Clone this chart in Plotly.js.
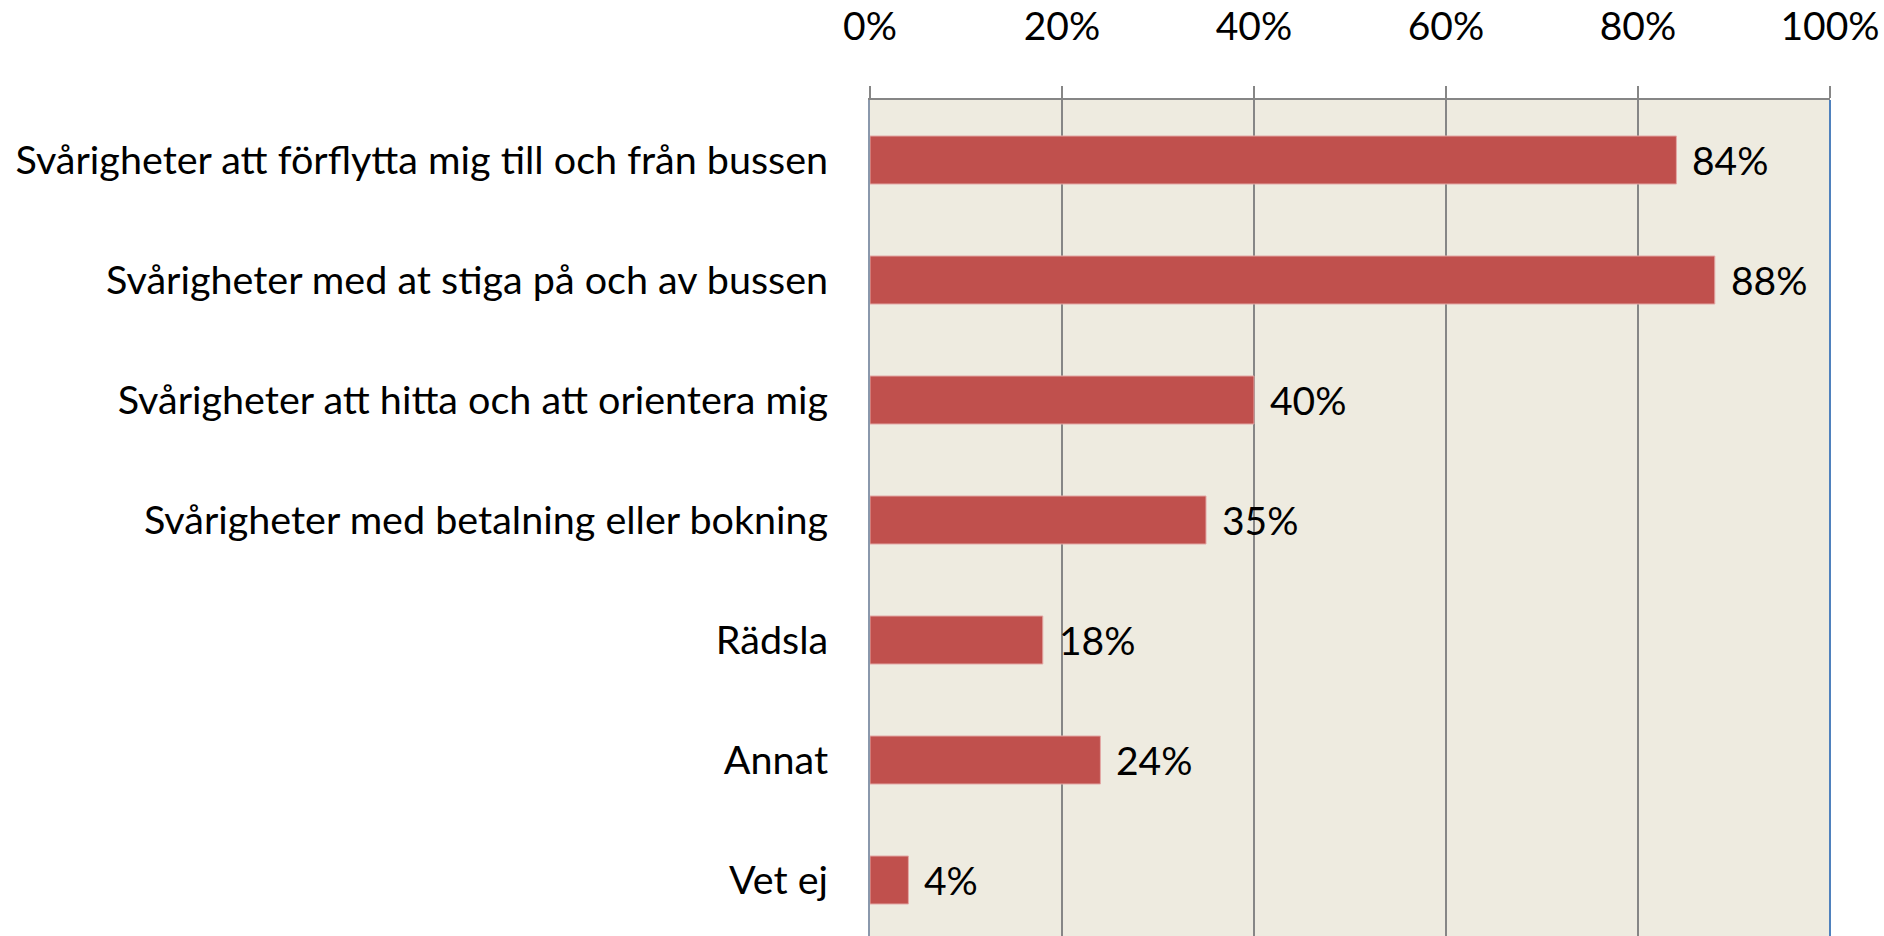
<!DOCTYPE html>
<html>
<head>
<meta charset="utf-8">
<script src="https://cdn.plot.ly/plotly-3.0.1.min.js"></script>
<style>html,body{margin:0;padding:0;background:#fff;}#chart{width:1884px;height:936px;}</style>
</head>
<body>
<div id="chart"></div>
<script>
const categories = [
  "Svårigheter att förflytta mig till och från bussen",
  "Svårigheter med at stiga på och av bussen",
  "Svårigheter att hitta och att orientera mig",
  "Svårigheter med betalning eller bokning",
  "Rädsla",
  "Annat",
  "Vet ej"
];
const values = [84, 88, 40, 35, 18, 24, 4];
const tickValues = [0, 20, 40, 60, 80, 100];
const tickLabels = ["0%", "20%", "40%", "60%", "80%", "100%"];

const FONT = "Lato, 'Open Sans', sans-serif";
const FS = 39;
const FSY = 39.5;

const trace = {
  type: "bar",
  orientation: "h",
  x: values,
  y: categories,
  width: 0.4,
  marker: {color: "#C0504D", line: {color: "#E3A8A6", width: 1}},
  hoverinfo: "skip",
  cliponaxis: false
};

const annotations = values.map((v, i) => ({
  x: v, y: categories[i], xref: "x", yref: "y",
  text: v + "%", showarrow: false, xanchor: "left", yanchor: "middle",
  xshift: 14, font: {family: FONT, size: FS, color: "#000"}
}));

const layout = {
  width: 1884, height: 936,
  margin: {l: 870, r: 54, t: 100, b: 0, pad: 0},
  paper_bgcolor: "#ffffff",
  plot_bgcolor: "#EEEBE0",
  showlegend: false,
  font: {family: FONT, size: FS, color: "#000"},
  bargap: 0.6,
  xaxis: {
    side: "top",
    range: [0, 100],
    tickvals: tickValues,
    ticktext: tickLabels,
    ticks: "outside", ticklen: 12, tickwidth: 2, tickcolor: "#868686",
    showgrid: true, gridcolor: "#868686", gridwidth: 1.5,
    showline: true, linecolor: "#868686", linewidth: 2,
    zeroline: false,
    ticklabelstandoff: 30,
    tickfont: {family: FONT, size: FS, color: "#000"},
    fixedrange: true
  },
  yaxis: {
    type: "category",
    categoryorder: "array", categoryarray: categories,
    range: [6.4667, -0.5],
    showgrid: false, zeroline: false,
    showline: true, linecolor: "#8A98AC", linewidth: 2,
    ticks: "", ticklabelstandoff: 32,
    tickfont: {family: FONT, size: FSY, color: "#000"},
    fixedrange: true
  },
  shapes: [{
    type: "line", xref: "paper", yref: "paper",
    x0: 1, x1: 1, y0: 0, y1: 1,
    line: {color: "#4F81BD", width: 2}
  }],
  annotations: annotations
};

Plotly.newPlot("chart", [trace], layout, {displayModeBar: false, staticPlot: true});
</script>
</body>
</html>
